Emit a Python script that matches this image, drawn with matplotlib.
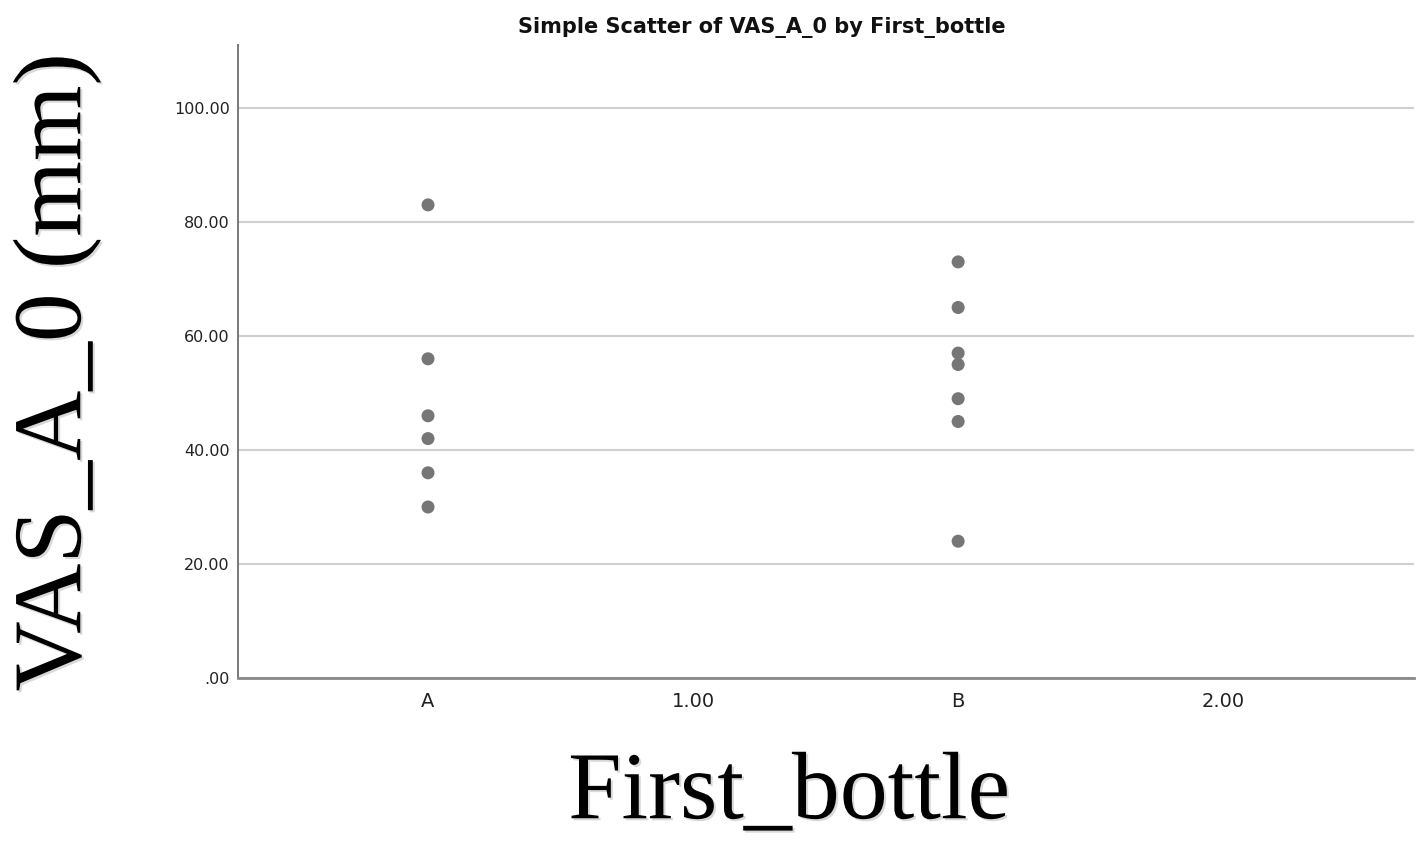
import matplotlib
matplotlib.use("Agg")
import matplotlib.pyplot as plt
import matplotlib.patheffects as pe

# Category axis as shown on the chart
x_tick_labels = ["A", "1.00", "B", "2.00"]
y_ticks = [0, 20, 40, 60, 80, 100]
y_tick_labels = [".00", "20.00", "40.00", "60.00", "80.00", "100.00"]

# VAS_A_0 values per first bottle
group_a_pos = 0
group_a_vals = [83, 56, 46, 42, 36, 30]
group_b_pos = 2
group_b_vals = [73, 65, 57, 55, 49, 45, 24]

fig = plt.figure(figsize=(14.19, 8.49), dpi=100)
ax = fig.add_axes([0.1677, 0.2014, 0.8288, 0.7456])

ax.scatter([group_a_pos] * len(group_a_vals), group_a_vals, s=88, color="#767676",
           edgecolors="none", zorder=3)
ax.scatter([group_b_pos] * len(group_b_vals), group_b_vals, s=88, color="#767676",
           edgecolors="none", zorder=3)

ax.set_xlim(-0.717, 3.72)
ax.set_ylim(0, 111.05)
ax.set_xticks(range(len(x_tick_labels)))
ax.set_xticklabels(x_tick_labels, fontsize=14, color="#222222")
ax.set_yticks(y_ticks)
ax.set_yticklabels(y_tick_labels, fontsize=11.5, color="#222222")
ax.tick_params(axis="both", length=0)
ax.tick_params(axis="x", pad=10)
ax.tick_params(axis="y", pad=6)

ax.yaxis.grid(True, color="#cfcfcf", linewidth=1.5, zorder=0)
ax.set_axisbelow(True)
for side in ("top", "right"):
    ax.spines[side].set_visible(False)
ax.spines["left"].set_color("#7a7a7a")
ax.spines["left"].set_linewidth(1.4)
ax.spines["bottom"].set_color("#8a8a8a")
ax.spines["bottom"].set_linewidth(2.0)

fig.text(762 / 1419, 1 - 27 / 849, "Simple Scatter of VAS_A_0 by First_bottle",
         ha="center", va="center", fontsize=15, fontweight="bold", color="#111111")

shadow = [pe.SimplePatchShadow(offset=(1.5, -1.5), shadow_rgbFace="#000000", alpha=0.15),
          pe.Normal()]
fig.text(789 / 1419, 1 - 795 / 849, "First_bottle", ha="center", va="center",
         fontsize=69, family="Liberation Serif", color="black", path_effects=shadow)
fig.text(57 / 1419, 1 - 372 / 849, "VAS_A_0 (mm)", ha="center", va="center",
         rotation=90, fontsize=70, family="Liberation Serif", color="black",
         path_effects=shadow)

fig.savefig("out.png", dpi=100, facecolor="white")
